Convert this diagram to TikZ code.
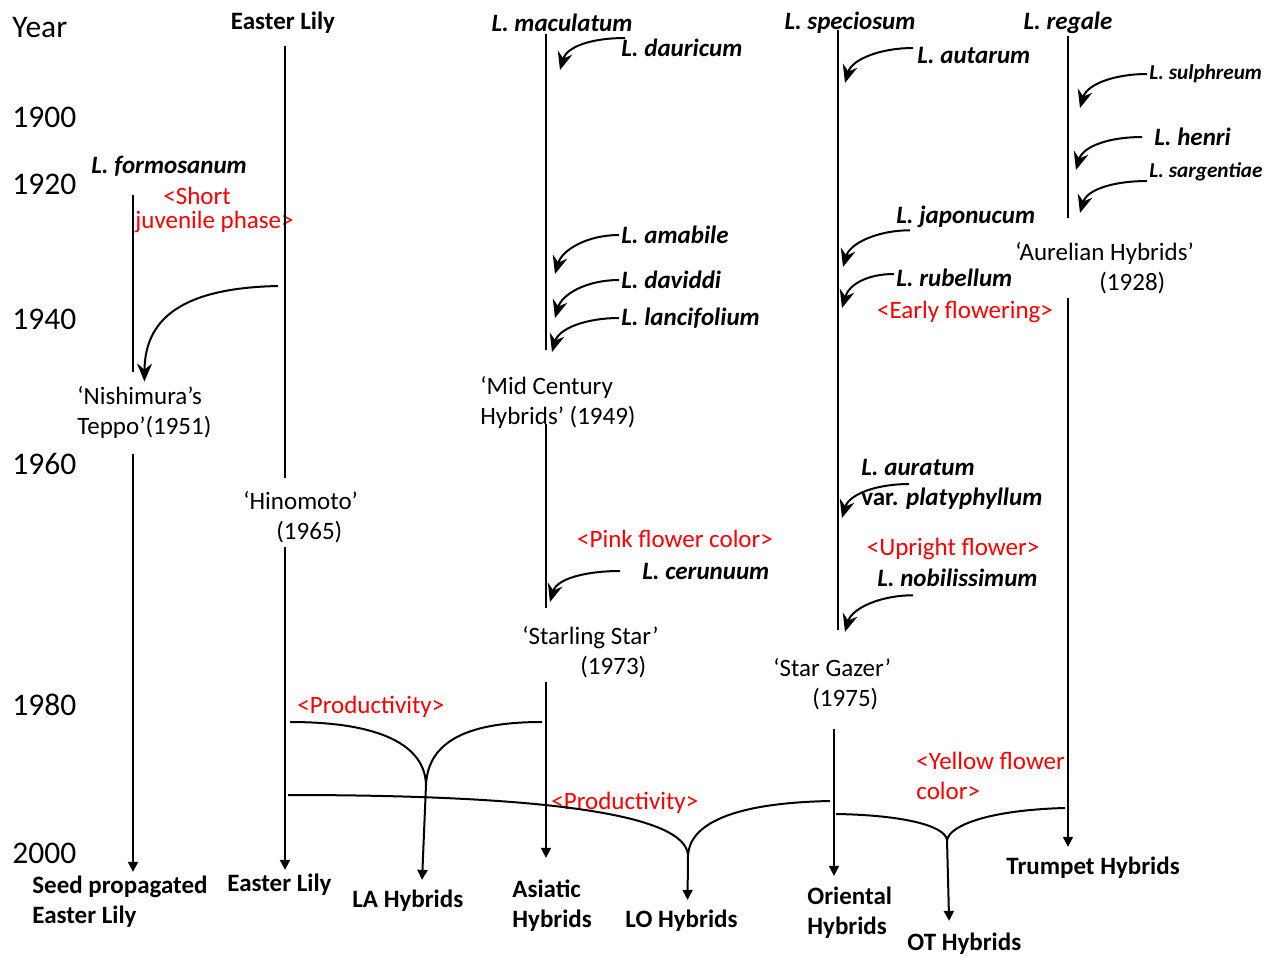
\documentclass[tikz,border=0pt]{standalone}
\usepackage{fontspec}
\setmainfont{Carlito}
\usetikzlibrary{arrows.meta}

\begin{document}
\begin{tikzpicture}
[x=0.5pt, y=-0.5pt,
 yearlbl/.style={anchor=west, inner sep=1pt, font=\fontsize{15.75}{19}\selectfont},
 head/.style={inner sep=1pt, font=\fontsize{12.5}{15}\selectfont\bfseries},
 sp/.style={anchor=west, align=left, inner sep=1pt, font=\fontsize{12.5}{15}\selectfont\bfseries\itshape},
 spsmall/.style={sp, font=\fontsize{10.6}{13}\selectfont\bfseries\itshape},
 cult/.style={anchor=west, align=left, inner sep=2pt, font=\fontsize{12.5}{15}\selectfont},
 trait/.style={inner sep=1pt, text=red, font=\fontsize{12.5}{15}\selectfont},
 grp/.style={anchor=west, align=left, inner sep=2pt, font=\fontsize{12.5}{15}\selectfont\bfseries},
 tl/.style={line width=1pt},
 tlarr/.style={tl, -{Triangle[length=5pt,width=5pt]}},
 gene/.style={line width=1pt, -{Stealth[length=9pt,width=7.5pt,inset=3pt]}}]
\useasboundingbox (0,0) rectangle (1280,958);

% years
\node[yearlbl] (yr) at (10,28) {Year};
\node[yearlbl] (y1900) at (10,117) {1900};
\node[yearlbl] (y1920) at (10,184) {1920};
\node[yearlbl] (y1940) at (10,319) {1940};
\node[yearlbl] (y1960) at (10,464) {1960};
\node[yearlbl] (y1980) at (10,705) {1980};
\node[yearlbl] (y2000) at (10,853) {2000};

% columns
\coordinate (cF) at (133,0);
\coordinate (cE) at (285,0);
\coordinate (cM) at (546,0);
\coordinate (cS) at (838,0);
\coordinate (cO) at (834,0);
\coordinate (cR) at (1068,0);

% parents on top
\node[head] (easterT) at (283,23) {Easter Lily};
\node[sp, anchor=center] (maculatum) at (562,23) {L. maculatum};
\node[sp, anchor=center] (speciosum) at (850,23) {L. speciosum};
\node[sp, anchor=center] (regale) at (1068,23) {L. regale};

% species crossed in
\node[sp] (formosanum) at (89,166) {L. formosanum};
\node[sp] (dauricum) at (619,48) {L. dauricum};
\node[sp] (autarum) at (915,55) {L. autarum};
\node[spsmall] (sulphreum) at (1147,74) {L. sulphreum};
\node[sp] (henri) at (1152,137) {L. henri};
\node[spsmall] (sargentiae) at (1147,172) {L. sargentiae};
\node[sp] (amabile) at (619,235) {L. amabile};
\node[sp] (daviddi) at (619,280) {L. daviddi};
\node[sp] (lancifolium) at (619,318) {L. lancifolium};
\node[sp] (japonucum) at (894,217) {L. japonucum};
\node[sp] (rubellum) at (894,278) {L. rubellum};
\node[sp] (auratum) at (859,484) {L. auratum\\\textup{var.} platyphyllum};
\node[sp] (nobilissimum) at (875,578) {L. nobilissimum};
\node[sp] (cerunuum) at (640,571) {L. cerunuum};

% cultivars
\node[cult] (nishimura) at (73,412) {‘Nishimura’s\\Teppo’(1951)};
\node[cult] (midcentury) at (476,402) {‘Mid Century\\Hybrids’ (1949)};
\node[cult] (hinomoto) at (239,517) {‘Hinomoto’\\\hspace*{16.5pt}(1965)};
\node[cult] (aurelian) at (1011,268) {‘Aurelian Hybrids’\\\hspace*{42pt}(1928)};
\node[cult] (starling) at (518,652) {‘Starling Star’\\\hspace*{29pt}(1973)};
\node[cult] (stargazer) at (769,684) {‘Star Gazer’\\\hspace*{19.5pt}(1975)};

% traits
\node[trait, anchor=west, align=left] (shortjuv) at (133,210) {\hspace*{14pt}<Short\\[-3pt]juvenile phase>};
\node[trait] (early) at (965,312) {<Early flowering>};
\node[trait] (pink) at (675,539) {<Pink flower color>};
\node[trait] (upright) at (953,549) {<Upright flower>};
\node[trait, anchor=west] (prodLA) at (295,707) {<Productivity>};
\node[trait, anchor=west] (prodLO) at (549,803) {<Productivity>};
\node[trait, anchor=west, align=left] (yellow) at (914,776) {<Yellow flower\\color>};

% hybrid groups
\node[grp] (seed) at (28,902) {Seed propagated\\Easter Lily};
\node[grp] (easterB) at (223,885) {Easter Lily};
\node[grp] (la) at (348,901) {LA Hybrids};
\node[grp] (asiatic) at (508,906) {Asiatic\\Hybrids};
\node[grp] (lo) at (621,921) {LO Hybrids};
\node[grp] (oriental) at (803,913) {Oriental\\Hybrids};
\node[grp] (ot) at (903,944) {OT Hybrids};
\node[grp] (trumpet) at (1002,868) {Trumpet Hybrids};

% time lines
\draw[tl, shorten <=8pt, shorten >=5pt] (formosanum.south -| cF) -- (nishimura.north -| cF);
\draw[tlarr, shorten <=6pt] (nishimura.south -| cF) -- (seed.north -| cF);
\draw[tl, shorten <=5pt, shorten >=4.5pt] (easterT.south -| cE) -- (hinomoto.north -| cE);
\draw[tlarr] (hinomoto.south -| cE) -- (easterB.north -| cE);
\draw[tl, shorten >=11pt] (maculatum.south -| cM) -- (midcentury.north -| cM);
\draw[tl, shorten <=-4pt, shorten >=7pt] (midcentury.south -| cM) -- (starling.north -| cM);
\draw[tlarr, shorten >=9pt] (starling.south -| cM) -- (asiatic.north -| cM);
\draw[tl, shorten <=-3pt, shorten >=12pt] (speciosum.south -| cS) -- (stargazer.north -| cS);
\draw[tlarr, shorten <=7.5pt, shorten >=3.5pt] (stargazer.south -| cO) -- (oriental.north -| cO);
\draw[tl, shorten >=10pt] (regale.south -| cR) -- (aurelian.north -| cR);
\draw[tlarr, shorten >=3pt] (aurelian.south -| cR) -- (trumpet.north -| cR);

% species coming in
\coordinate (tDau) at (560,70);
\coordinate (tAut) at (845,83);
\coordinate (tSul) at (1080,108);
\coordinate (tHen) at (1076,170);
\coordinate (tSar) at (1080,213);
\coordinate (tAma) at (555,274);
\coordinate (tDav) at (555,318);
\coordinate (tLan) at (552,352);
\coordinate (tJap) at (843,267);
\coordinate (tRub) at (842,308);
\coordinate (tAur) at (842,518);
\coordinate (tNob) at (845,632);
\coordinate (tCer) at (550,602);
\draw[gene] ([xshift=3pt,yshift=5pt]dauricum.west) .. controls +(-32,0) and +(7,-24) .. (tDau);
\draw[gene] ([xshift=-1pt,yshift=3.5pt]autarum.west) .. controls +(-32,0) and +(7,-24) .. (tAut);
\draw[gene] (sulphreum.west) .. controls +(-32,0) and +(7,-24) .. (tSul);
\draw[gene] ([xshift=-5pt]henri.west) .. controls +(-32,0) and +(7,-24) .. (tHen);
\draw[gene] ([yshift=-4.5pt]sargentiae.west) .. controls +(-32,0) and +(7,-24) .. (tSar);
\draw[gene] (amabile.west) .. controls +(-32,0) and +(7,-24) .. (tAma);
\draw[gene] (daviddi.west) .. controls +(-32,0) and +(7,-24) .. (tDav);
\draw[gene] (lancifolium.west) .. controls +(-32,0) and +(7,-24) .. (tLan);
\draw[gene] ([xshift=8pt]japonucum.south west) .. controls +(-32,0) and +(7,-24) .. (tJap);
\draw[gene] ([yshift=2pt]rubellum.west) .. controls +(-26,0) and +(7,-24) .. (tRub);
\draw[gene] ([xshift=25pt]auratum.west) .. controls +(-32,0) and +(7,-24) .. (tAur);
\draw[gene] ([xshift=19pt,yshift=-3pt]nobilissimum.south west) .. controls +(-32,0) and +(7,-24) .. (tNob);
\draw[gene] ([xshift=-10pt]cerunuum.west) .. controls +(-32,0) and +(7,-24) .. (tCer);

% Easter Lily x L. formosanum
\coordinate (eNish) at (278,286);
\draw[gene] (eNish) .. controls (180,288) and (145,320) .. (nishimura.north);

% interspecific crosses
\coordinate (laL) at (290,722);
\coordinate (laR) at (542,722);
\coordinate (laC) at (426,785);
\draw[tl] (laL) .. controls (380,722) and (425,745) .. (laC);
\draw[tl] (laR) .. controls (470,722) and (428,740) .. (laC);
\draw[tlarr, shorten >=3pt] (laC) -- ([xshift=7pt]la.north);

\coordinate (loL) at (288,795);
\coordinate (loR) at (830,801);
\coordinate (loC) at (688,855);
\draw[tl] (loL) .. controls (550,795) and (685,815) .. (loC);
\draw[tl] (loR) .. controls (730,803) and (690,825) .. (loC);
\draw[tlarr, shorten >=3pt] (loC) -- ([xshift=3pt]lo.north);

\coordinate (otL) at (836,814);
\coordinate (otR) at (1065,808);
\coordinate (otC) at (947,840);
\draw[tl] (otL) .. controls (900,815) and (945,825) .. (otC);
\draw[tl] (otR) .. controls (990,810) and (950,825) .. (otC);
\draw[tlarr, shorten >=4pt] (otC) -- ([xshift=-7.5pt]ot.north);
\end{tikzpicture}
\end{document}
